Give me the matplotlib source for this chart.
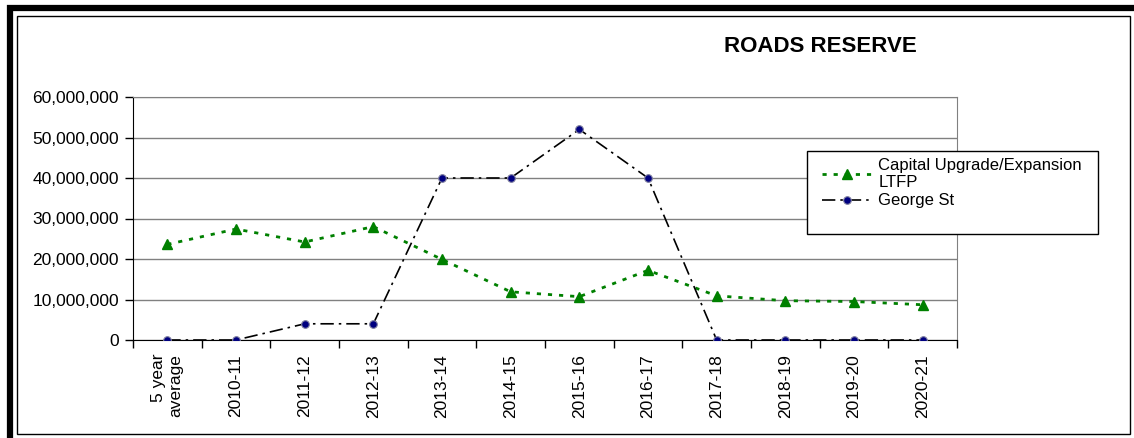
import matplotlib.pyplot as plt
import matplotlib.patches as mpatches
from matplotlib.ticker import FuncFormatter, FixedLocator
import numpy as np

plt.rcParams["font.family"] = ["Liberation Sans", "DejaVu Sans"]

categories = ["5 year\naverage", "2010-11", "2011-12", "2012-13", "2013-14", "2014-15",
              "2015-16", "2016-17", "2017-18", "2018-19", "2019-20", "2020-21"]
capital_ltfp = [23.6e6, 27.4e6, 24.2e6, 28.0e6, 19.9e6, 11.9e6,
                10.7e6, 17.2e6, 10.9e6, 9.7e6, 9.5e6, 8.7e6]
george_st = [0, 0, 4.0e6, 4.0e6, 40.0e6, 40.0e6,
             52.0e6, 40.0e6, 0, 0, 0, 0]

W, H = 1134, 438
fig = plt.figure(figsize=(W / 100, H / 100), dpi=100)


def fx(px):
    return px / W


def fy(py):
    return 1 - py / H


# outer thick border (cut off at right/bottom) and inner thin frame
fig.patches.append(mpatches.Rectangle((fx(9.5), fy(445)), fx(1140), (445 - 8.5) / H,
                                      transform=fig.transFigure, fill=False,
                                      edgecolor="black", linewidth=4.5))
fig.patches.append(mpatches.Rectangle((fx(17), fy(434)), fx(1130 - 17), (434 - 16) / H,
                                      transform=fig.transFigure, fill=False,
                                      edgecolor="black", linewidth=1))
# legend frame
fig.patches.append(mpatches.Rectangle((fx(807), fy(234)), fx(1098 - 807), (234 - 151) / H,
                                      transform=fig.transFigure, fill=True,
                                      facecolor="white", edgecolor="black",
                                      linewidth=1, zorder=5))

ax = fig.add_axes([fx(133), fy(340), fx(957 - 133), (340 - 97) / H])
x = np.arange(len(categories))

ax.plot(x, capital_ltfp, linestyle=(0, (1.5, 2.5)), color="#008000", linewidth=2,
        marker="^", markersize=7.5, markerfacecolor="#008000", markeredgecolor="#008000",
        label="Capital Upgrade/Expansion\nLTFP", zorder=3)
ax.plot(x, george_st, linestyle=(0, (8, 3, 1.5, 3)), color="black", linewidth=1.2,
        marker="o", markersize=5.5, markerfacecolor="#000080", markeredgecolor="#8080a0",
        markeredgewidth=0.8, label="George St", zorder=3)

ax.set_xlim(-0.5, len(categories) - 0.5)
ax.set_ylim(0, 60e6)
ax.yaxis.set_major_locator(FixedLocator(np.arange(0, 60e6 + 1, 10e6)))
ax.yaxis.set_major_formatter(FuncFormatter(lambda v, p: f"{int(v):,}"))
ax.grid(axis="y", color="#808080", linewidth=1)
ax.set_axisbelow(True)

ax.set_xticks(x)
ax.set_xticklabels(categories, rotation=90, ha="center", va="top",
                   multialignment="right")
ax.set_xticks(np.arange(-0.5, len(categories), 1), minor=True)
ax.tick_params(axis="x", which="major", length=0, pad=10, labelsize=12.5)
ax.tick_params(axis="x", which="minor", length=6, width=1, direction="out")
ax.tick_params(axis="y", length=6, width=1, labelsize=12.5, pad=4)

for side in ["top", "right"]:
    ax.spines[side].set_color("#808080")
ax.spines["left"].set_color("black")
ax.spines["bottom"].set_color("black")

fig.text(fx(820), fy(46), "ROADS RESERVE", ha="center", va="center",
         fontsize=16, fontweight="bold")

leg = fig.legend(loc="upper left", bbox_to_anchor=(fx(815), fy(151)),
                 frameon=False, fontsize=12,
                 handlelength=3.0, borderpad=0.4, labelspacing=0.2,
                 handletextpad=0.4, borderaxespad=0)
leg.set_zorder(6)

fig.savefig("out.png", dpi=100)
